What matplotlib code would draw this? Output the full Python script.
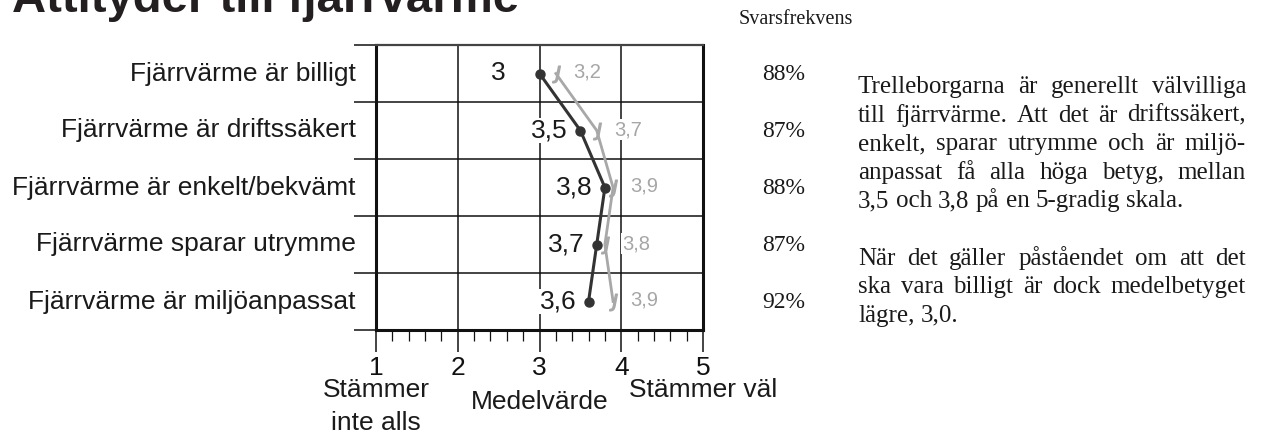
import matplotlib
matplotlib.use("Agg")
import matplotlib.pyplot as plt
import numpy as np
from matplotlib.ticker import FixedLocator, MultipleLocator, NullFormatter
from matplotlib.transforms import offset_copy, blended_transform_factory, IdentityTransform

# ---- data ----
categories = ["Fjärrvärme är billigt", "Fjärrvärme är driftssäkert",
              "Fjärrvärme är enkelt/bekvämt", "Fjärrvärme sparar utrymme",
              "Fjärrvärme är miljöanpassat"]
series_dark = [3.0, 3.5, 3.8, 3.7, 3.6]
series_gray = [3.2, 3.7, 3.9, 3.8, 3.9]
response_rate = ["88%", "87%", "88%", "87%", "92%"]
x_ticks = [1, 2, 3, 4, 5]
title = "Attityder till fjärrvärme"
para1 = ["Trelleborgarna är generellt välvilliga",
         "till fjärrvärme. Att det är driftssäkert,",
         "enkelt, sparar utrymme och är miljö-",
         "anpassat få alla höga betyg, mellan",
         "3,5 och 3,8 på en 5-gradig skala."]
para2 = ["När det gäller påståendet om att det",
         "ska vara billigt är dock medelbetyget",
         "lägre, 3,0."]

W, H = 1261, 433
fig = plt.figure(figsize=(W / 100, H / 100), dpi=100)
SANS = "Liberation Sans"
SERIF = "Liberation Serif"
INK = "#1a1a1a"

ax_l, ax_r, ax_t, ax_b = 376, 703, 45, 330
ax = fig.add_axes([ax_l / W, 1 - ax_b / H, (ax_r - ax_l) / W, (ax_b - ax_t) / H])
n = len(categories)
ypos = np.arange(n)
ax.set_xlim(1, 5)
ax.set_ylim(n - 0.5, -0.5)

# grid
for xv in x_ticks[1:-1]:
    ax.axvline(xv, color="#111111", lw=1.1, zorder=1)
for yb in np.arange(0.5, n - 0.5, 1):
    ax.axhline(yb, color="#111111", lw=1.1, zorder=1)

for s in ["left", "right", "bottom"]:
    ax.spines[s].set_linewidth(2.2)
    ax.spines[s].set_color("#111111")
ax.spines["top"].set_linewidth(1.6)
ax.spines["top"].set_color("#444444")

ax.xaxis.set_major_locator(FixedLocator(x_ticks))
ax.xaxis.set_minor_locator(MultipleLocator(0.2))
ax.set_xticklabels([str(v) for v in x_ticks], fontsize=19, family=SANS, color=INK)
ax.tick_params(axis="x", which="major", length=16, width=1.1, direction="out", pad=3,
               colors="#111111")
ax.tick_params(axis="x", which="minor", length=8, width=0.9, direction="out",
               colors="#111111")

ax.yaxis.set_major_locator(FixedLocator(np.arange(-0.5, n, 1)))
ax.yaxis.set_major_formatter(NullFormatter())
ax.tick_params(axis="y", which="major", length=16, width=1.1, direction="out",
               colors="#111111")
lab_tr = offset_copy(ax.get_yaxis_transform(), fig=fig, x=-20, y=0, units="dots")
for i, c in enumerate(categories):
    ax.text(0, i, c, transform=lab_tr, ha="right", va="center",
            fontsize=19, family=SANS, color=INK)

# series
ax.plot(series_gray, ypos, color="#a8a8a8", lw=2.0, zorder=3)
ax.plot(series_gray, ypos, linestyle="none", marker="$J$", markersize=12,
        color="#a8a8a8", zorder=3)
ax.plot(series_dark, ypos, color="#333333", lw=2.2, marker="o", markersize=6.5,
        zorder=4)

# dark value labels: left-aligned in a fixed slot to the left of the point
tr_left = offset_copy(ax.transData, fig=fig, x=-49, y=0, units="dots")
tr_right = offset_copy(ax.transData, fig=fig, x=17, y=1, units="dots")
for v, y in zip(series_dark, ypos):
    ax.text(v, y, f"{v:g}".replace(".", ","), transform=tr_left, ha="left", va="center",
            fontsize=19, family=SANS, color=INK, zorder=5,
            bbox=dict(facecolor="white", edgecolor="none", pad=0.5))
for v, y in zip(series_gray, ypos):
    ax.text(v, y, f"{v:g}".replace(".", ","), transform=tr_right, ha="left", va="center",
            fontsize=14.5, family=SANS, color="#a6a6a6", zorder=5,
            bbox=dict(facecolor="white", edgecolor="none", pad=0.5))

# response rates
rate_tr = blended_transform_factory(IdentityTransform(), ax.transData)
rate_tr = offset_copy(rate_tr, fig=fig, x=0, y=-1, units="dots")
for i, r in enumerate(response_rate):
    ax.text(784, i, r, transform=rate_tr, ha="center", va="center",
            fontsize=17, family=SERIF, color=INK)
fig.text(796 / W, 1 - 19 / H, "Svarsfrekvens", ha="center", va="center",
         fontsize=14.5, family=SERIF, color=INK)


# bottom labels (centred under 1, 3 and 5)
def xfig(v):
    return (ax_l + (v - 1) / 4 * (ax_r - ax_l)) / W


fig.text(xfig(1), 1 - 397 / H, "Stämmer", ha="center", va="baseline",
         fontsize=19, family=SANS, color=INK)
fig.text(xfig(1), 1 - 430 / H, "inte alls", ha="center", va="baseline",
         fontsize=19, family=SANS, color=INK)
fig.text(xfig(3), 1 - 409 / H, "Medelvärde", ha="center", va="baseline",
         fontsize=19, family=SANS, color=INK)
fig.text(xfig(5), 1 - 397 / H, "Stämmer väl", ha="center", va="baseline",
         fontsize=19, family=SANS, color=INK)

# title (partly cut off at top)
fig.text(12 / W, 1 - 12 / H, title, ha="left", va="baseline", fontsize=34,
         family=SANS, weight="bold", color="#231f20")

# justified paragraph
fig.canvas.draw()
renderer = fig.canvas.get_renderer()
PX_L, PX_R = 858, 1246
LINE = 28.6
PFS = 18


def draw_line(words, y_px, justify):
    objs = [fig.text(0, 1 - y_px / H, w, ha="left", va="baseline", fontsize=PFS,
                     family=SERIF, color=INK) for w in words]
    widths = [o.get_window_extent(renderer).width for o in objs]
    if justify and len(words) > 1:
        gap = (PX_R - PX_L - sum(widths)) / (len(words) - 1)
    else:
        sp = fig.text(0, 0, "a a", fontsize=PFS, family=SERIF)
        sp2 = fig.text(0, 0, "aa", fontsize=PFS, family=SERIF)
        gap = sp.get_window_extent(renderer).width - sp2.get_window_extent(renderer).width
        sp.remove()
        sp2.remove()
    x = PX_L
    for o, w in zip(objs, widths):
        o.set_x(x / W)
        x += w + gap


y0 = 93
for k, line in enumerate(para1):
    draw_line(line.split(" "), y0 + k * LINE, k < len(para1) - 1)
y1 = y0 + 6 * LINE
for k, line in enumerate(para2):
    draw_line(line.split(" "), y1 + k * LINE, k < len(para2) - 1)

fig.savefig("out.png", dpi=100)
